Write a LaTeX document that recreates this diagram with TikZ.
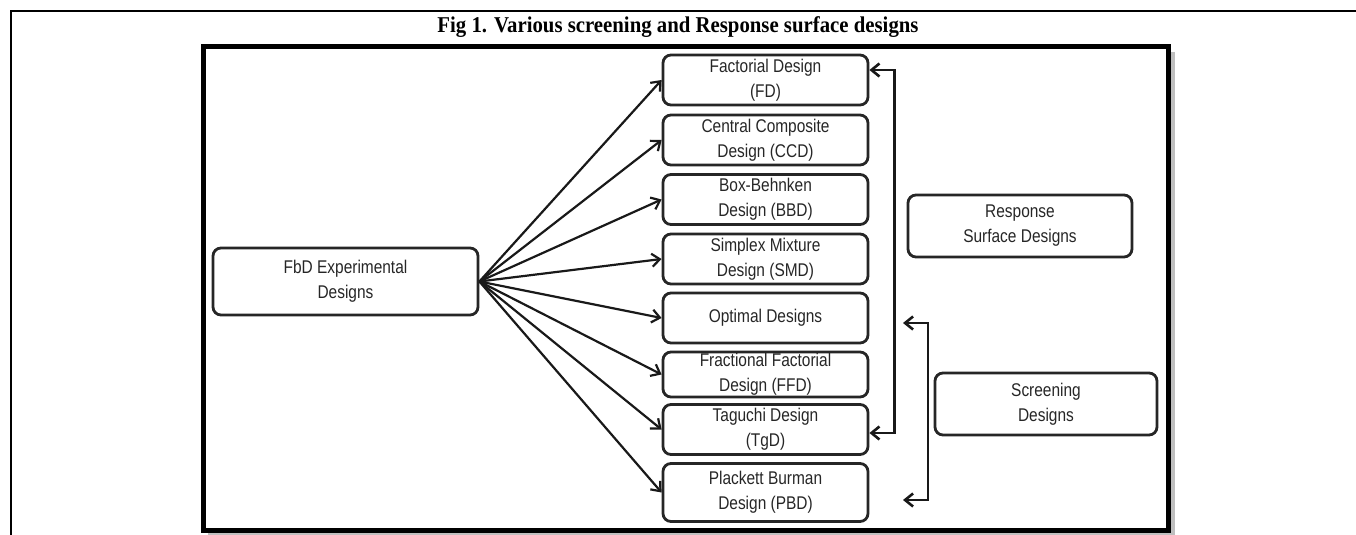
\documentclass[tikz,border=0pt]{standalone}
\usepackage{fontspec}
\usetikzlibrary{arrows.meta}
\newfontfamily\boxfont{Liberation Sans}[FakeStretch=0.84]
\newfontfamily\titlefont{Liberation Serif}[FakeStretch=0.92]
\begin{document}
\begin{tikzpicture}[x=0.5pt,y=-0.5pt,
    dbox/.style={draw=black!85,line width=1.4pt,rounded corners=4pt,align=center,
      minimum width=102.5pt,minimum height=25pt,inner sep=0pt,text=black!85,
      font=\boxfont\fontsize{9.2}{12.5}\selectfont},
    link/.style={line width=1.1pt,draw=black!90,-{Straight Barb[length=4pt,width=6.5pt]}},
    bracket/.style={line width=1.3pt,draw=black!90,
      {Straight Barb[length=4pt,width=6.5pt]}-{Straight Barb[length=4pt,width=6.5pt]}}]
      \useasboundingbox (0,0) rectangle (1356,535);

      % frame of the table cell and the figure
      \draw[line width=1pt] (11,535) -- (11,11) -- (1356,11);
      \node[anchor=base,font=\titlefont\bfseries\fontsize{11.3}{14}\selectfont] (title) at (678,33)
        {Fig 1. Various screening and Response surface designs};
      \draw[black!25,line width=2.5pt] (1172,52) -- (1172,534) -- (208,534);
      \draw[line width=2.5pt] (203,47) rectangle (1168,530);

      % boxes
      \node[dbox,minimum width=132.5pt,minimum height=33.5pt] (fbd) at (345.5,281.5)
        {FbD Experimental\\Designs};
      \node[dbox] (fd)  at (765.5,80)    {Factorial Design\\(FD)};
      \node[dbox] (ccd) at (765.5,140)   {Central Composite\\Design (CCD)};
      \node[dbox] (bbd) at (765.5,199.5) {Box-Behnken\\Design (BBD)};
      \node[dbox] (smd) at (765.5,259)   {Simplex Mixture\\Design (SMD)};
      \node[dbox] (od)  at (765.5,318)   {Optimal Designs};
      \node[dbox,minimum height=22.5pt] (ffd) at (765.5,374.5) {Fractional Factorial\\Design (FFD)};
      \node[dbox] (tgd) at (765.5,429.5) {Taguchi Design\\(TgD)};
      \node[dbox,minimum height=29pt] (pbd) at (765.5,492.5) {Plackett Burman\\Design (PBD)};
      \node[dbox,minimum width=112pt,minimum height=31pt] (rsd) at (1020,226)
        {Response\\Surface Designs};
      \node[dbox,minimum width=111pt,minimum height=31pt] (sd) at (1046,404)
        {Screening\\Designs};

      % fan of arrows
      \foreach \n in {fd,ccd,bbd,smd,od,ffd,tgd,pbd}
        \draw[link] (fbd.east) -- (\n.west);

      % brackets
      \draw[bracket] ([yshift=5pt]fd.east) -- ++(12.5pt,0) |- ([yshift=-1.75pt]tgd.east);
      \coordinate (s1) at (903,323);
      \coordinate (s2) at (903,500);
      \draw[bracket] (s1) -- ++(12.5pt,0) |- (s2);
    \end{tikzpicture}
\end{document}
